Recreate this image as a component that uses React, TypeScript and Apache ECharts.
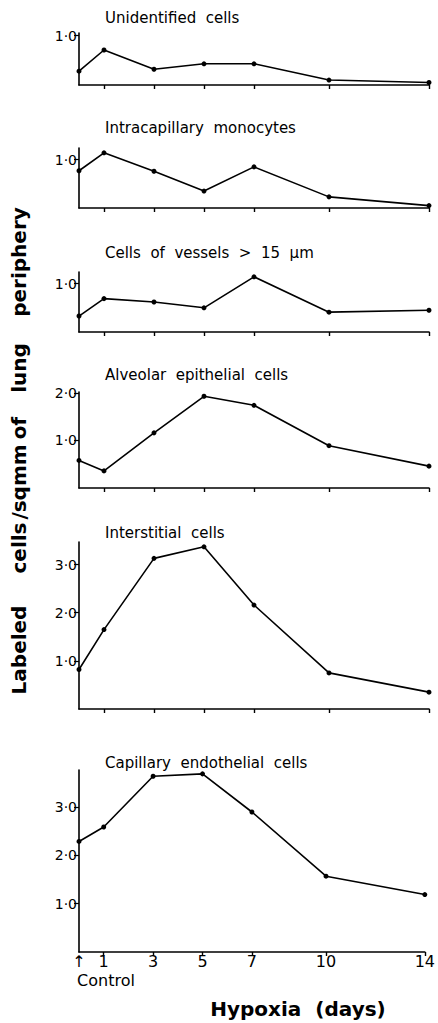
import React, { useEffect, useRef } from "react";
import * as echarts from "echarts";

const days = [0, 1, 3, 5, 7, 10, 14];
const panelTitles = [
  "Unidentified  cells",
  "Intracapillary  monocytes",
  "Cells  of  vessels  >  15  µm",
  "Alveolar  epithelial  cells",
  "Interstitial  cells",
  "Capillary  endothelial  cells",
];
const unidentified = [0.28, 0.71, 0.32, 0.43, 0.43, 0.1, 0.05];
const monocytes = [0.77, 1.14, 0.76, 0.35, 0.85, 0.23, 0.05];
const vessels = [0.33, 0.69, 0.62, 0.5, 1.14, 0.41, 0.45];
const alveolar = [0.58, 0.36, 1.16, 1.93, 1.74, 0.89, 0.46];
const interstitial = [0.82, 1.65, 3.13, 3.37, 2.16, 0.75, 0.35];
const endothelial = [2.29, 2.59, 3.64, 3.69, 2.9, 1.57, 1.19];
const seriesValues = [unidentified, monocytes, vessels, alveolar, interstitial, endothelial];
const yTickValues = [[1], [1], [1], [1, 2], [1, 2, 3], [1, 2, 3]];
const xTickValues = [1, 3, 5, 7, 10, 14];
const xLabelValues = [0, 1, 3, 5, 7, 10, 14];
const yAxisTitleWords = ["Labeled", "cells", "/sqmm", "of", "lung", "periphery"];
const xAxisTitle = "Hypoxia  (days)";
const controlLabel = "Control";

// layout (pixels) per panel: grid top, grid height, y max, title centre y
const layout = [
  { top: 33, height: 52, max: 1.055, titleY: 18 },
  { top: 148, height: 60, max: 1.24, titleY: 128 },
  { top: 272, height: 60, max: 1.24, titleY: 253 },
  { top: 392, height: 96, max: 2.02, titleY: 375 },
  { top: 542, height: 167, max: 3.47, titleY: 533 },
  { top: 770, height: 182, max: 3.77, titleY: 763 },
];
const wordCentres = [650, 548, 482, 428, 368, 262];

const FONT = "DejaVu Sans";

export default function App() {
  const ref = useRef<HTMLDivElement>(null);
  useEffect(() => {
    document.body.style.margin = "0";
    const chart = echarts.init(ref.current!, null, { renderer: "svg" });
    const n = layout.length;
    const grids = layout.map((l) => ({ left: 79, width: 350, top: l.top, height: l.height, containLabel: false }));
    const xAxes = layout.map((l, i) => ({
      type: "value",
      gridIndex: i,
      min: 0,
      max: 14,
      splitLine: { show: false },
      axisLine: { show: true, lineStyle: { color: "#000", width: 1.6 } },
      axisTick: { show: true, length: 4, customValues: xTickValues, lineStyle: { color: "#000", width: 1.4 } },
      axisLabel: {
        show: i === n - 1,
        customValues: xLabelValues,
        fontFamily: FONT,
        fontSize: 16,
        color: "#000",
        margin: 1,
        formatter: (v: number) => (v === 0 ? "↑" : String(v)),
      },
    }));
    const yAxes = layout.map((l, i) => ({
      type: "value",
      gridIndex: i,
      min: 0,
      max: l.max,
      splitLine: { show: false },
      axisLine: { show: true, lineStyle: { color: "#000", width: 1.6 } },
      axisTick: { show: true, length: 5, customValues: yTickValues[i], lineStyle: { color: "#000", width: 1.2 } },
      axisLabel: {
        show: true,
        customValues: yTickValues[i],
        fontFamily: FONT,
        fontSize: 14,
        color: "#000",
        margin: 2,
        formatter: (v: number) => v.toFixed(1).replace(".", "·"),
      },
    }));
    const series = seriesValues.map((vals, i) => ({
      type: "line",
      xAxisIndex: i,
      yAxisIndex: i,
      data: days.map((d, j) => [d, vals[j]]),
      symbol: "circle",
      symbolSize: 5,
      lineStyle: { color: "#000", width: 1.6 },
      itemStyle: { color: "#000" },
      clip: false,
    }));
    const graphics: any[] = panelTitles.map((t, i) => ({
      type: "text",
      x: 105,
      y: layout[i].titleY,
      style: { text: t, fontFamily: FONT, fontSize: 15, fill: "#000", verticalAlign: "middle", align: "left" },
    }));
    yAxisTitleWords.forEach((w, i) => {
      graphics.push({
        type: "text",
        x: 19,
        y: wordCentres[i],
        rotation: Math.PI / 2,
        style: { text: w, fontFamily: FONT, fontSize: 20, fontWeight: "bold", fill: "#000", align: "center", verticalAlign: "middle" },
      });
    });
    graphics.push({
      type: "text",
      x: 106,
      y: 980,
      style: { text: controlLabel, fontFamily: FONT, fontSize: 16, fill: "#000", align: "center", verticalAlign: "middle" },
    });
    graphics.push({
      type: "text",
      x: 298,
      y: 1009,
      style: { text: xAxisTitle, fontFamily: FONT, fontSize: 20, fontWeight: "bold", fill: "#000", align: "center", verticalAlign: "middle" },
    });
    chart.setOption({
      animation: false,
      backgroundColor: "#fff",
      grid: grids,
      xAxis: xAxes,
      yAxis: yAxes,
      series,
      graphic: graphics,
    });
    return () => chart.dispose();
  }, []);
  return <div ref={ref} style={{ width: 438, height: 1023 }} />;
}
